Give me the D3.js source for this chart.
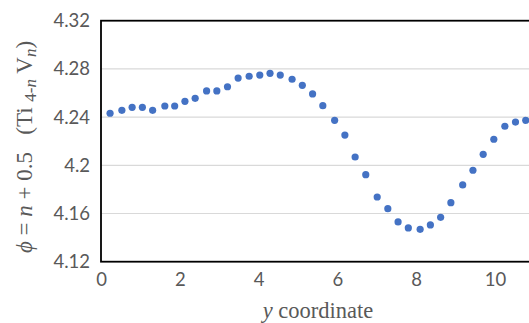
<!DOCTYPE html>
<html>
<head>
<meta charset="utf-8">
<script src="https://cdn.jsdelivr.net/npm/d3@7"></script>
<style>
  body { margin: 0; background: #fff; }
  svg { display: block; }
</style>
</head>
<body>
<div id="chart"></div>
<script>
// y coordinate of each sample
const yCoord = [0.23, 0.53, 0.79, 1.05, 1.31, 1.62, 1.87, 2.13, 2.39, 2.68,
  2.94, 3.21, 3.48, 3.76, 4.03, 4.29, 4.55, 4.85, 5.11, 5.37,
  5.63, 5.93, 6.19, 6.45, 6.72, 7.01, 7.28, 7.54, 7.80, 8.10,
  8.36, 8.62, 8.88, 9.18, 9.44, 9.70, 9.97, 10.25, 10.52, 10.78];

// phi = n + 0.5 values
const phi = [4.2432, 4.2456, 4.2481, 4.2481, 4.2456, 4.2492, 4.2492, 4.2531, 4.2556, 4.2617,
  4.2617, 4.2652, 4.2724, 4.2739, 4.2749, 4.2763, 4.2749, 4.2714, 4.2664, 4.2592,
  4.2495, 4.2373, 4.2251, 4.2069, 4.1922, 4.1737, 4.1640, 4.1530, 4.1480, 4.1469,
  4.1505, 4.1568, 4.1690, 4.1837, 4.1959, 4.2091, 4.2216, 4.2324, 4.2359, 4.2373];

const xTicks = [0, 2, 4, 6, 8, 10];
const yTicks = [4.12, 4.16, 4.2, 4.24, 4.28, 4.32];

const W = 529, H = 323;
const plotLeft = 101, plotTop = 20.7, plotBottom = 261.7;
const pxPerUnit = 39.4;

const svg = d3.select("#chart").append("svg")
  .attr("width", W)
  .attr("height", H);

const x = d3.scaleLinear().domain([0, 12]).range([plotLeft, plotLeft + 12 * pxPerUnit]);
const y = d3.scaleLinear().domain([4.12, 4.32]).range([plotBottom, plotTop]);

// gridlines
svg.append("g")
  .selectAll("line")
  .data(yTicks.slice(1, -1))
  .join("line")
    .attr("x1", plotLeft).attr("x2", x(12))
    .attr("y1", d => y(d)).attr("y2", d => y(d))
    .attr("stroke", "#d9d9d9")
    .attr("stroke-width", 1.2);

// plot border
svg.append("rect")
  .attr("x", plotLeft).attr("y", plotTop)
  .attr("width", x(12) - plotLeft).attr("height", plotBottom - plotTop)
  .attr("fill", "none")
  .attr("stroke", "#000")
  .attr("stroke-width", 1.8);

// y axis labels
const yAxis = d3.axisLeft(y).tickValues(yTicks).tickSize(0).tickPadding(11)
  .tickFormat(d => String(+d.toFixed(2)));
svg.append("g")
  .attr("transform", `translate(${plotLeft},0)`)
  .call(yAxis)
  .call(g => g.select(".domain").remove())
  .selectAll("text")
    .attr("font-family", "Lato, 'Open Sans', sans-serif")
    .attr("font-size", 18.5)
    .attr("fill", "#595959");

// x axis labels
const xAxis = d3.axisBottom(x).tickValues(xTicks).tickSize(0).tickPadding(11);
svg.append("g")
  .attr("transform", `translate(0,${plotBottom})`)
  .call(xAxis)
  .call(g => g.select(".domain").remove())
  .selectAll("text")
    .attr("font-family", "Lato, 'Open Sans', sans-serif")
    .attr("font-size", 18.5)
    .attr("fill", "#595959");

// points
svg.append("g")
  .selectAll("circle")
  .data(yCoord.map((d, i) => ({ x: d, v: phi[i] })))
  .join("circle")
    .attr("cx", d => x(d.x))
    .attr("cy", d => y(d.v))
    .attr("r", 3.6)
    .attr("fill", "#4472c4");

// x axis title
const xt = svg.append("text")
  .attr("x", 318).attr("y", 318)
  .attr("text-anchor", "middle")
  .attr("font-family", "'Liberation Serif', serif")
  .attr("font-size", 22.5)
  .attr("fill", "#595959");
xt.append("tspan").attr("font-style", "italic").text("y");
xt.append("tspan").text(" coordinate");

// y axis title
const yt = svg.append("text")
  .attr("transform", "translate(32,147) rotate(-90)")
  .attr("text-anchor", "middle")
  .attr("font-family", "'Liberation Serif', serif")
  .attr("font-size", 23)
  .attr("fill", "#595959")
  .attr("xml:space", "preserve")
  .style("white-space", "pre");
yt.append("tspan").attr("font-style", "italic").text("ϕ");
yt.append("tspan").text(" = ");
yt.append("tspan").attr("font-style", "italic").text("n");
yt.append("tspan").text(" + 0.5   (Ti ");
yt.append("tspan").attr("font-size", 17).attr("dy", 4).text("4-");
yt.append("tspan").attr("font-size", 17).attr("font-style", "italic").text("n");
yt.append("tspan").attr("dy", -4).text(" V");
yt.append("tspan").attr("font-size", 17).attr("font-style", "italic").attr("dy", 4).text("n");
yt.append("tspan").attr("dy", -4).text(")");
</script>
</body>
</html>
